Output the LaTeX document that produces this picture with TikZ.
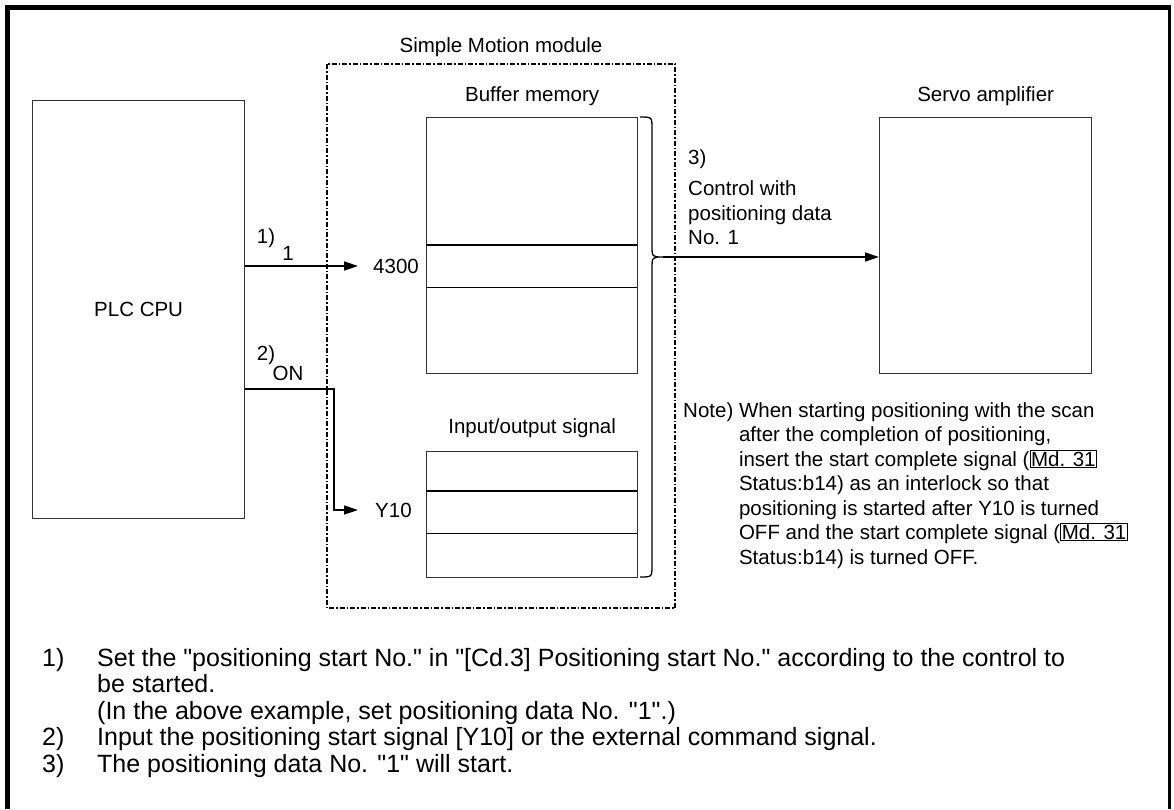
\documentclass[tikz,border=0pt]{standalone}
\usepackage{fontspec}
\setmainfont{Liberation Sans}[Ligatures=TeXOff]
\usepackage{tikz}
\usetikzlibrary{arrows.meta, positioning, calc}

\newcommand{\mdref}[1]{{\setlength{\fboxsep}{0.6pt}\setlength{\fboxrule}{0.9pt}\fbox{#1}}}

\begin{document}
\begin{tikzpicture}[x=1pt, y=-1pt, >={Triangle[length=14pt,width=9pt]}]

\tikzset{
    unitbox/.style={rectangle, draw=black!80, line width=1.3pt, inner sep=0pt, anchor=north west},
    rowspan/.style={rectangle, inner sep=0pt, anchor=north west},
    rowline/.style={draw=black, line width=1.6pt},
    modframe/.style={draw=black, line width=1.3pt,
                     dash pattern=on 5pt off 2pt on 1.5pt off 2pt},
    lbl/.style={font=\fontsize{20.5}{24.5}\selectfont, inner sep=0pt},
    sig/.style={line width=1.5pt, ->}
}

\useasboundingbox (0,0) rectangle (1174,809);

% -- frame --
\draw[line width=5pt] (7.5,809) -- (7.5,7.5) -- (1171,7.5);
\draw[line width=2.5pt] (1169.5,7.5) -- (1169.5,809);

% -- module --
\draw[modframe] (327,64) rectangle (675,608);
\node[lbl] (modlbl) at (501,47) {Simple Motion module};

% -- blocks --
\node[unitbox, minimum width=212pt, minimum height=418pt] (plc) at (32,100) {};
\node[lbl] (plclbl) at (plc.center) {PLC CPU};

\node[unitbox, minimum width=211pt, minimum height=256pt] (buf) at (426,117) {};
\node[lbl, above=11pt of buf] (buflbl) {Buffer memory};
\node[rowspan, minimum width=211pt, minimum height=42pt] (row) at (426,245) {};
\draw[rowline] (row.north west) -- (row.north east)
               (row.south west) -- (row.south east);

\node[unitbox, minimum width=211pt, minimum height=126pt] (io) at (426,451) {};
\node[lbl, above=13pt of io] (iolbl) {Input/output signal};
\node[rowspan, minimum width=211pt, minimum height=42pt] (iorow) at (426,491) {};
\draw[rowline] (iorow.north west) -- (iorow.north east)
               (iorow.south west) -- (iorow.south east);

\node[unitbox, minimum width=212pt, minimum height=256pt] (servo) at (879,117) {};
\node[lbl, above=11pt of servo] (servolbl) {Servo amplifier};

% -- addresses --
\node[lbl, anchor=west] (addr) at (373,266) {4300};
\node[lbl, anchor=west] (y10) at (375,510) {Y10};

% -- signals --
\draw[sig] (plc.east |- addr) -- ([xshift=-15pt]addr.west);
\node[lbl] (n1) at (266,238) {1)};
\node[lbl] (v1) at (288,253) {1};

\coordinate (onknee) at (334,389);
\draw[sig] (plc.east |- onknee) -- (onknee) |- ([xshift=-17pt]y10.west);
\node[lbl] (n2) at (266,355) {2)};
\node[lbl] (von) at (288,373) {ON};

% -- brace --
\coordinate (tip) at (663,257);
\draw[line width=1.3pt] (640,117) .. controls (652,117) .. (652,129) -- (652,245)
    .. controls (652,257) .. (tip) .. controls (652,257) .. (652,269)
    -- (652,565) .. controls (652,577) .. (640,577);

\draw[sig] (tip) -- (servo.west |- tip);
\node[lbl, anchor=north west, align=left] (ctl) at (688,149)
    {3)\\[7pt]Control with\\positioning data\\No. 1};

% -- note --
\node[lbl, anchor=north west, align=left] (note) at (683,402)
    {Note) When starting positioning with the scan\\
     \hphantom{Note) }after the completion of positioning,\\
     \hphantom{Note) }insert the start complete signal (\mdref{Md. 31}\\
     \hphantom{Note) }Status:b14) as an interlock so that\\
     \hphantom{Note) }positioning is started after Y10 is turned\\
     \hphantom{Note) }OFF and the start complete signal (\mdref{Md. 31}\\
     \hphantom{Note) }Status:b14) is turned OFF.};

% -- explanations --
\node[anchor=north west, inner sep=0pt, align=left, font=\fontsize{25}{26.5}\selectfont] (expl) at (42,648)
    {\makebox[55pt][l]{1)}Set the "positioning start No." in "[Cd.3] Positioning start No." according to the control to\\
     \hspace*{55pt}be started.\\
     \hspace*{55pt}(In the above example, set positioning data No. "1".)\\
     \makebox[55pt][l]{2)}Input the positioning start signal [Y10] or the external command signal.\\
     \makebox[55pt][l]{3)}The positioning data No. "1" will start.};

\end{tikzpicture}
\end{document}
